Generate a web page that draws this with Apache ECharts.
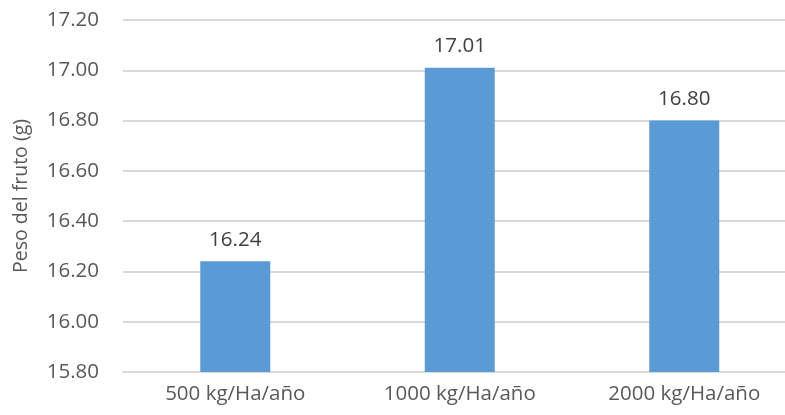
<!DOCTYPE html>
<html>
<head>
<meta charset="utf-8">
<script src="https://cdn.jsdelivr.net/npm/echarts@6/dist/echarts.min.js"></script>
<style>html,body{margin:0;padding:0;background:#fff;}#c{width:785px;height:415px;}</style>
</head>
<body>
<div id="c"></div>
<script>
const categories = ['500 kg/Ha/año', '1000 kg/Ha/año', '2000 kg/Ha/año'];
const values = [16.24, 17.01, 16.80];
const yMin = 15.8, yMax = 17.2, yStep = 0.2;
const yTitle = 'Peso del fruto (g)';

const chart = echarts.init(document.getElementById('c'));
const font = '"Open Sans", "Noto Sans", sans-serif';
chart.setOption({
  animation: false,
  textStyle: { fontFamily: font },
  grid: { left: 123, top: 20, width: 673.5, height: 352, outerBoundsMode: 'none', containLabel: false },
  xAxis: {
    type: 'category',
    data: categories,
    axisTick: { show: false },
    axisLine: { lineStyle: { color: '#d9d9d9', width: 2 } },
    axisLabel: { color: '#595959', fontSize: 20.5, fontFamily: font, margin: 12 }
  },
  yAxis: {
    type: 'value',
    min: yMin, max: yMax, interval: yStep,
    name: yTitle,
    nameLocation: 'middle',
    nameGap: 92,
    nameRotate: 90,
    nameTextStyle: { color: '#595959', fontSize: 19.5, fontFamily: font },
    axisLine: { show: false },
    axisTick: { show: false },
    splitLine: { lineStyle: { color: '#d9d9d9', width: 2 } },
    axisLabel: { color: '#595959', fontSize: 20.5, fontFamily: font, margin: 24,
      formatter: v => v.toFixed(2) }
  },
  series: [{
    type: 'bar',
    data: values,
    barWidth: 70,
    itemStyle: { color: '#5B9BD5' },
    label: { show: true, position: 'top', distance: 11, color: '#404040', fontSize: 20.5, fontFamily: font,
      formatter: p => p.value.toFixed(2) }
  }]
});
</script>
</body>
</html>
